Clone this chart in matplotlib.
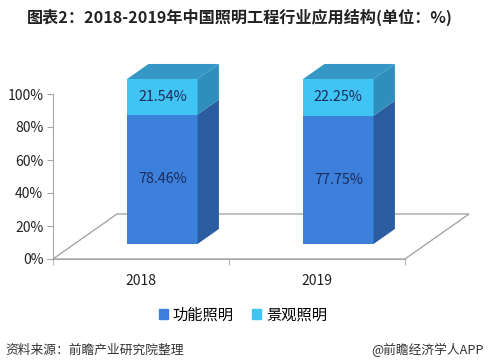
import matplotlib
matplotlib.use("Agg")
import matplotlib.pyplot as plt
import matplotlib.patches as mpatches

# data
years = ["2018", "2019"]
func_light = [78.46, 77.75]    # 功能照明
land_light = [21.54, 22.25]    # 景观照明
series_names = ["功能照明", "景观照明"]

# colours
FUNC_FRONT = "#3c80dc"
FUNC_SIDE = "#2b5ca0"
LAND_FRONT = "#40c4f3"
LAND_SIDE = "#2e8fba"
LAND_TOP = "#3597c6"
FLOOR = "#a6a6a6"
LABEL = "#1c2b5a"
TEXT = "#333333"

plt.rcParams["font.family"] = ["Noto Sans CJK SC", "DejaVu Sans"]

W, H = 493, 363
fig = plt.figure(figsize=(W / 100, H / 100), dpi=100)
fig.patch.set_facecolor("white")

# axes: y 0..100 spans the front plane of the floor
ax = fig.add_axes([53 / W, 1 - 259 / H, 352 / W, 165 / H])
ax.set_xlim(-0.5, len(years) - 0.5)
ax.set_ylim(0, 100)

# 3D depth (floor), in data units
depth_x = 0.364
depth_y = 27.3
bar_w = 0.4
off_x, off_y = depth_x / 3, depth_y / 3     # bar sits in middle third
bdx, bdy = depth_x / 3, depth_y / 3

# floor
x_lo, x_hi = ax.get_xlim()
floor = mpatches.Polygon(
    [(x_lo, 0), (x_hi, 0), (x_hi + depth_x, depth_y), (x_lo + depth_x, depth_y)],
    closed=True, fill=False, edgecolor=FLOOR, linewidth=1.0, clip_on=False, zorder=1,
)
ax.add_patch(floor)


def box(x0, y0, y1, front, side, top=None):
    x1 = x0 + bar_w
    ax.add_patch(mpatches.Rectangle((x0, y0), bar_w, y1 - y0, facecolor=front,
                                    edgecolor="none", clip_on=False, zorder=3))
    ax.add_patch(mpatches.Polygon(
        [(x1, y0), (x1 + bdx, y0 + bdy), (x1 + bdx, y1 + bdy), (x1, y1)],
        closed=True, facecolor=side, edgecolor="none", clip_on=False, zorder=3))
    if top is not None:
        ax.add_patch(mpatches.Polygon(
            [(x0, y1), (x1, y1), (x1 + bdx, y1 + bdy), (x0 + bdx, y1 + bdy)],
            closed=True, facecolor=top, edgecolor="none", clip_on=False, zorder=3))


for i, (f, l) in enumerate(zip(func_light, land_light)):
    x0 = i - bar_w / 2 + off_x
    base = off_y
    box(x0, base, base + f, FUNC_FRONT, FUNC_SIDE)
    box(x0, base + f, base + f + l, LAND_FRONT, LAND_SIDE, LAND_TOP)
    cx = x0 + bar_w / 2
    ax.text(cx, base + f / 2, f"{f:.2f}%", ha="center", va="center",
            fontsize=10.3, color=LABEL, zorder=4)
    ax.text(cx, base + f + l / 2, f"{l:.2f}%", ha="center", va="center",
            fontsize=10.3, color=LABEL, zorder=4)

# axes styling
for s in ["top", "right"]:
    ax.spines[s].set_visible(False)
ax.spines["left"].set_color(FLOOR)
ax.spines["bottom"].set_color(FLOOR)
ax.set_yticks(range(0, 101, 20), [f"{v}%" for v in range(0, 101, 20)])
ax.tick_params(axis="y", length=4, color=FLOOR, labelsize=10, labelcolor="#222222", pad=3)
ax.set_xticks(range(len(years)), years)
ax.set_xticks([x_lo, x_lo + 1, x_hi], minor=True)
ax.tick_params(axis="x", which="major", length=0, labelsize=10, labelcolor="#222222", pad=11)
ax.tick_params(axis="x", which="minor", length=4, color=FLOOR)
ax.patch.set_alpha(0)

# legend
handles = [mpatches.Patch(color=FUNC_FRONT, label=series_names[0]),
           mpatches.Patch(color=LAND_FRONT, label=series_names[1])]
fig.legend(handles=handles, loc="center", bbox_to_anchor=(243 / W, 1 - 315 / H),
           ncol=2, frameon=False, fontsize=11, handlelength=0.6, handleheight=0.6,
           handletextpad=0.3, columnspacing=1.2)

# title and footer
fig.text(27 / W, 1 - 17 / H, "图表2：2018-2019年中国照明工程行业应用结构(单位：%)",
         fontsize=11.6, fontweight="bold", color="#222222", va="center", ha="left")
fig.text(5 / W, 1 - 350 / H, "资料来源：前瞻产业研究院整理",
         fontsize=9.2, color=TEXT, va="center", ha="left")
fig.text(484 / W, 1 - 350 / H, "@前瞻经济学人APP",
         fontsize=9.2, color=TEXT, va="center", ha="right")

fig.savefig("out.png", dpi=100, facecolor="white")
